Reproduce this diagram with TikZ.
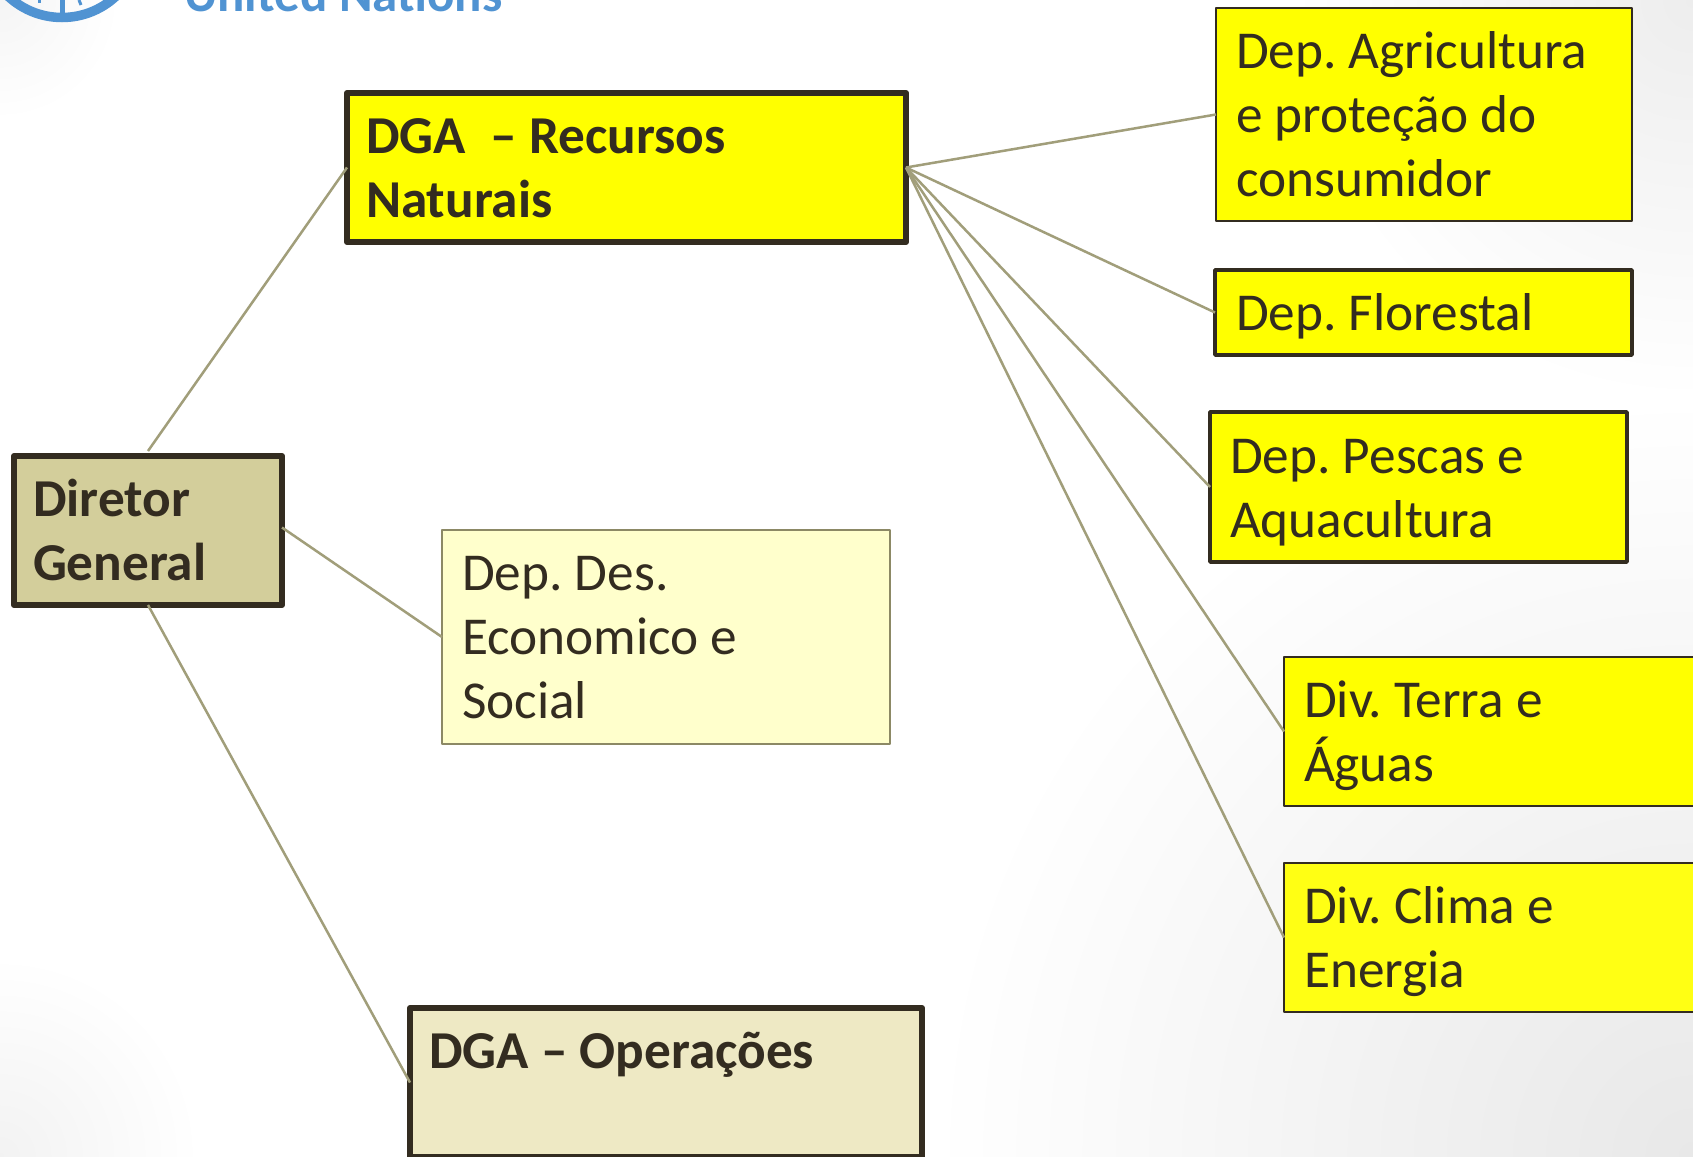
\documentclass[tikz,border=0pt]{standalone}
\usepackage{fontspec}
\setmainfont{Carlito}
\frenchspacing
\definecolor{ink}{HTML}{332C20}
\definecolor{linkc}{HTML}{A19E7A}
\definecolor{tan}{HTML}{D3CE9B}
\definecolor{paletan}{HTML}{EEE9C4}
\definecolor{cream}{HTML}{FFFFCC}
\definecolor{edgec}{HTML}{8C8965}
\definecolor{logoblue}{HTML}{5093D2}
\definecolor{pureyellow}{HTML}{FFFF00}
\definecolor{lightyellow}{HTML}{FFFF14}
\tikzset{
  x=1pt,y=-1pt,
  box/.style={rectangle,anchor=north west,draw=ink,outer sep=0pt,inner xsep=20pt,inner ysep=0pt,
    align=left,text=ink,font=\fontsize{53.3}{64.2}\selectfont,line join=round,
    execute at begin node={\spaceskip=.23em\xspaceskip=.23em}},
  heavy/.style={box,inner xsep=19pt,line width=6pt,font=\fontsize{53.3}{64.2}\selectfont\bfseries},
  lift/.style={text height=0pt,text depth=#1},
  drop/.style={text height=#1,text depth=0pt},
  link/.style={draw=linkc,line width=2.5pt},
}
\begin{document}
\begin{tikzpicture}
\useasboundingbox (0,0) rectangle (1693,1156);
\clip (0,0) rectangle (1693,1156);
\fill[white] (0,0) rectangle (1693,1156);
\shade[inner color=black!9,outer color=white] (1693,1156) circle (760);
\shade[inner color=black!7,outer color=white] (1693,0) circle (400);
\shade[inner color=black!5,outer color=white] (0,1156) circle (200);
\shade[inner color=black!4,outer color=white] (0,0) circle (120);
% logo
\draw[logoblue,line width=9.5pt] (62,-61.5) circle (79);
\draw[logoblue,line width=5pt] (62,0) -- (62,14);
\draw[logoblue,line width=3pt] (39,0) -- (39,3);
\draw[logoblue,line width=3pt] (79,0) -- (81,5);
\node[anchor=base west,inner sep=0pt,text=logoblue,font=\fontsize{51}{51}\selectfont\bfseries] (un) at (184,12) {United Nations};
% boxes
\node[heavy,lift=29pt,fill=pureyellow,text width=521pt,minimum height=149pt] (rn) at (347,93) {DGA\ \ – Recursos\\Naturais};
\node[heavy,lift=29pt,fill=tan,text width=230pt,minimum height=149pt] (dir) at (14,456) {Diretor\\General};
\node[box,lift=93pt,fill=cream,draw=edgec,line width=1.5pt,text width=408pt,minimum height=214pt] (des) at (442,530) {Dep. Des.\\Economico e\\Social};
\node[heavy,lift=29pt,fill=paletan,text width=474pt,minimum height=149pt] (op) at (410,1008) {DGA – Operações\\\mbox{}};
\node[box,lift=93pt,fill=pureyellow,line width=2.5pt,text width=376pt,minimum height=213pt] (agr) at (1216,8) {Dep. Agricultura\\e proteção do\\consumidor};
\node[box,drop=35pt,inner xsep=21pt,fill=pureyellow,line width=3.5pt,text width=375pt,minimum height=85pt] (flo) at (1215,270) {Dep. Florestal};
\node[box,lift=28pt,fill=pureyellow,line width=3.5pt,text width=377pt,minimum height=150pt] (pes) at (1210,412) {Dep. Pescas e\\Aquacultura};
\node[box,lift=28pt,fill=pureyellow,line width=2pt,text width=400pt,minimum height=149pt] (ter) at (1284,657) {Div. Terra e\\Águas};
\node[box,lift=29pt,fill=lightyellow,line width=2pt,text width=400pt,minimum height=149pt] (cli) at (1284,863) {Div. Clima e\\Energia};
% connectors
\draw[link] ([yshift=5pt]dir.north) -- (rn.west);
\draw[link] ([yshift=3pt]dir.east) -- (des.west);
\draw[link] (dir.south) -- (op.west);
\draw[link] (rn.east) -- (agr.west);
\draw[link] (rn.east) -- (flo.west);
\draw[link] (rn.east) -- (pes.west);
\draw[link] (rn.east) -- (ter.west);
\draw[link] (rn.east) -- (cli.west);
\end{tikzpicture}
\end{document}
